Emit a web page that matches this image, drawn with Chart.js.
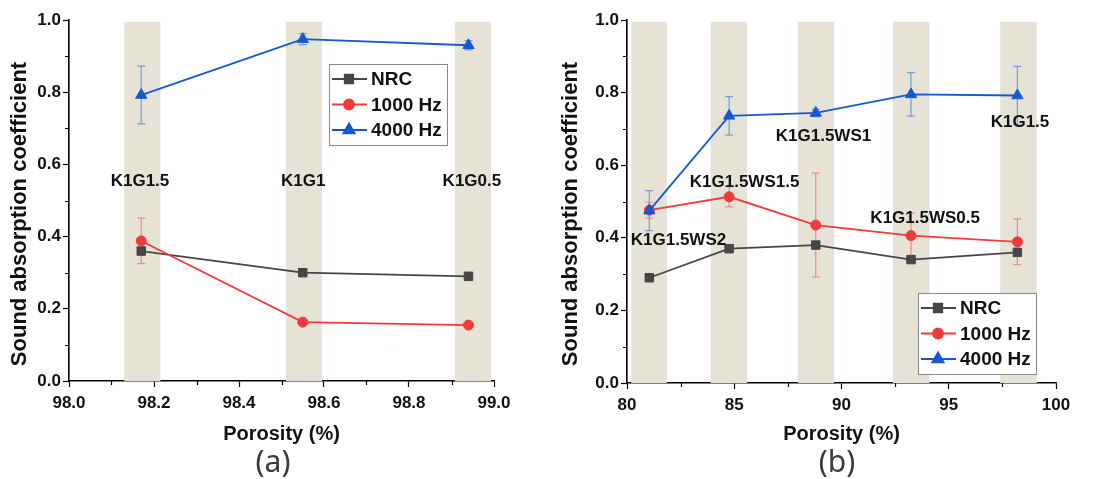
<!DOCTYPE html>
<html>
<head>
<meta charset="utf-8">
<script src="https://cdn.jsdelivr.net/npm/chart.js@4.4.0/dist/chart.umd.min.js"></script>
<style>
  body { margin: 0; background: #fff; }
  #wrap { position: relative; width: 1099px; height: 479px; overflow: hidden; }
  .panel { position: absolute; top: 0; width: 550px; height: 479px; }
  .cap { position: absolute; top: 440px; width: 80px; text-align: center;
         font: 30px "Noto Sans", sans-serif; color: #3a3a3a; }
</style>
</head>
<body>
<div id="wrap">
  <div class="panel" style="left:0"><canvas id="chartA"></canvas></div>
  <div class="panel" style="left:550px;width:549px"><canvas id="chartB"></canvas></div>
  <div class="cap" style="left:233px">(a)</div>
  <div class="cap" style="left:797px">(b)</div>
</div>
<script>
// ---- data ----
const seriesNames = ['NRC', '1000 Hz', '4000 Hz'];

// panel (a): K1G series
const porosityA = [98.17, 98.55, 98.94];
const nrcA = [0.36, 0.30, 0.29];
const hz1000A = [0.388, 0.163, 0.155];
const hz1000ErrA = [0.063, 0.004, 0.004];
const hz4000A = [0.792, 0.947, 0.930];
const hz4000ErrA = [0.08, 0.015, 0.013];
const bandsA = [[98.13, 98.215], [98.51, 98.595], [98.908, 98.993]];
const sampleLabelsA = ['K1G1.5', 'K1G1', 'K1G0.5'];
const sampleLabelXA = [98.167, 98.551, 98.948];
const sampleLabelYA = [0.552, 0.552, 0.552];
const xTicksA = [98.0, 98.2, 98.4, 98.6, 98.8, 99.0];

// panel (b): K1G1.5WS series
const porosityB = [81.04, 84.76, 88.8, 93.24, 98.2];
const nrcB = [0.29, 0.37, 0.38, 0.34, 0.36];
const hz1000B = [0.476, 0.513, 0.435, 0.406, 0.389];
const hz1000ErrB = [0.022, 0.028, 0.143, 0.062, 0.063];
const hz4000B = [0.475, 0.736, 0.744, 0.795, 0.792];
const hz4000ErrB = [0.055, 0.053, 0.01, 0.06, 0.08];
const bandsB = [[80.2, 81.86], [83.9, 85.6], [87.97, 89.65], [92.4, 94.1], [97.4, 99.1]];
const sampleLabelsB = ['K1G1.5WS2', 'K1G1.5WS1.5', 'K1G1.5WS1', 'K1G1.5WS0.5', 'K1G1.5'];
const sampleLabelXB = [82.4, 85.48, 89.16, 93.9, 98.32];
const sampleLabelYB = [0.394, 0.552, 0.679, 0.454, 0.717];
const xTicksB = [80, 85, 90, 95, 100];

const yTicks = [0.0, 0.2, 0.4, 0.6, 0.8, 1.0];
const yTitle = 'Sound absorption coefficient';

// ---- styles ----
const FONT = '"Liberation Sans", Arial, sans-serif';
const colors = {
  nrc: '#464646',
  red: '#ef3b3b',
  blue: '#1558d2',
  redErr: '#f08a8a',
  blueErr: '#6ea0df',
  band: '#e6e2d6'
};

function pts(xs, ys) {
  return xs.map((x, i) => ({ x: x, y: ys[i] }));
}

// shaded bands, error bars, sample labels, minor ticks, y title and inner legend
const extras = {
  id: 'extras',
  beforeDatasetsDraw(chart, args, opts) {
    const { ctx, chartArea } = chart;
    const x = chart.scales.x, y = chart.scales.y;
    ctx.save();
    ctx.fillStyle = colors.band;
    opts.bands.forEach(b => {
      const x0 = x.getPixelForValue(b[0]), x1 = x.getPixelForValue(b[1]);
      const top = y.getPixelForValue(0.995);
      ctx.fillRect(x0, top, x1 - x0, chartArea.bottom - top);
    });
    // error bars
    ctx.lineWidth = 1.2;
    opts.errors.forEach(e => {
      ctx.strokeStyle = e.color;
      e.xs.forEach((xv, i) => {
        const px = x.getPixelForValue(xv);
        const hi = y.getPixelForValue(e.ys[i] + e.err[i]);
        const lo = y.getPixelForValue(e.ys[i] - e.err[i]);
        ctx.beginPath();
        ctx.moveTo(px, hi); ctx.lineTo(px, lo);
        ctx.moveTo(px - 4, hi); ctx.lineTo(px + 4, hi);
        ctx.moveTo(px - 4, lo); ctx.lineTo(px + 4, lo);
        ctx.stroke();
      });
    });
    ctx.restore();
  },
  afterDraw(chart, args, opts) {
    const { ctx, chartArea } = chart;
    const x = chart.scales.x, y = chart.scales.y;
    ctx.save();
    // minor ticks
    ctx.strokeStyle = '#000';
    ctx.lineWidth = 1.2;
    const xt = x.ticks.map(t => t.value), yt = y.ticks.map(t => t.value);
    ctx.beginPath();
    for (let i = 0; i < xt.length - 1; i++) {
      const px = Math.round(x.getPixelForValue((xt[i] + xt[i + 1]) / 2)) + 0.5;
      ctx.moveTo(px, chartArea.bottom); ctx.lineTo(px, chartArea.bottom + 4);
    }
    for (let i = 0; i < yt.length - 1; i++) {
      const py = Math.round(y.getPixelForValue((yt[i] + yt[i + 1]) / 2)) + 0.5;
      ctx.moveTo(chartArea.left, py); ctx.lineTo(chartArea.left - 4, py);
    }
    ctx.stroke();

    // y axis title
    ctx.save();
    ctx.translate(opts.yTitleX, 214);
    ctx.rotate(-Math.PI / 2);
    ctx.fillStyle = '#111';
    ctx.font = 'bold 22px ' + FONT;
    ctx.textAlign = 'center';
    ctx.textBaseline = 'middle';
    ctx.fillText(yTitle, 0, 0);
    ctx.restore();

    // sample labels
    ctx.fillStyle = '#111';
    ctx.font = 'bold 17px ' + FONT;
    ctx.textAlign = 'center';
    ctx.textBaseline = 'middle';
    opts.labels.forEach((t, i) => {
      ctx.fillText(t, x.getPixelForValue(opts.labelX[i]), y.getPixelForValue(opts.labelY[i]));
    });

    // legend box
    const L = opts.legend;
    const bx = chartArea.left + L.left, by = chartArea.top + L.top;
    ctx.fillStyle = '#fff';
    ctx.fillRect(bx, by, 118, 81);
    ctx.strokeStyle = '#8a8a8a';
    ctx.lineWidth = 1;
    ctx.strokeRect(bx + 0.5, by + 0.5, 118, 81);
    ctx.textAlign = 'left';
    ctx.font = 'bold 19px ' + FONT;
    chart.data.datasets.forEach((ds, i) => {
      const ry = by + 15 + i * 25.5;
      ctx.strokeStyle = ds.borderColor;
      ctx.lineWidth = 1.8;
      ctx.beginPath();
      ctx.moveTo(bx + 3, ry); ctx.lineTo(bx + 38, ry);
      ctx.stroke();
      Chart.helpers.drawPoint(ctx, {
        pointStyle: ds.pointStyle, radius: ds.pointRadius, borderWidth: 1, rotation: 0
      }, bx + 20, ry);
      ctx.fillStyle = ds.backgroundColor;
      ctx.fill();
      ctx.fillStyle = '#111';
      ctx.fillText(seriesNames[i], bx + 42, ry + 1);
    });
    ctx.restore();
  }
};

function makeChart(id, p) {
  const tickFont = { family: FONT, size: 17, weight: 'bold' };
  return new Chart(document.getElementById(id), {
    type: 'line',
    data: {
      datasets: [
        { label: seriesNames[0], data: pts(p.xs, p.nrc), borderColor: colors.nrc,
          backgroundColor: colors.nrc, pointStyle: 'rect', pointRadius: 6, order: 2 },
        { label: seriesNames[1], data: pts(p.xs, p.h1000), borderColor: colors.red,
          backgroundColor: colors.red, pointStyle: 'circle', pointRadius: 5, order: 1 },
        { label: seriesNames[2], data: pts(p.xs, p.h4000), borderColor: colors.blue,
          backgroundColor: colors.blue, pointStyle: 'triangle', pointRadius: 6.5, order: 0 }
      ]
    },
    options: {
      responsive: true,
      maintainAspectRatio: false,
      animation: false,
      layout: { padding: p.padding },
      elements: {
        line: { borderWidth: 1.8, tension: 0 },
        point: { borderWidth: 1, hoverRadius: 5 }
      },
      plugins: {
        legend: { display: false },
        tooltip: { enabled: false },
        extras: {
          bands: p.bands,
          errors: [
            { xs: p.xs, ys: p.h1000, err: p.e1000, color: colors.redErr },
            { xs: p.xs, ys: p.h4000, err: p.e4000, color: colors.blueErr }
          ],
          labels: p.labels, labelX: p.labelX, labelY: p.labelY,
          legend: p.legend, yTitleX: p.yTitleX
        }
      },
      scales: {
        x: {
          type: 'linear',
          min: p.xTicks[0], max: p.xTicks[p.xTicks.length - 1],
          afterBuildTicks: s => { s.ticks = p.xTicks.map(v => ({ value: v })); },
          afterFit: s => { s.height = p.xHeight; },
          ticks: { color: '#111', font: tickFont, padding: 6, maxRotation: 0, autoSkip: false,
                   callback: v => p.xFmt(v) },
          grid: { drawOnChartArea: false, drawTicks: true, tickLength: 6, tickColor: '#000', tickWidth: 1.2 },
          border: { display: true, color: '#000', width: 1.6 },
          title: {
            display: true, text: 'Porosity (%)', color: '#111',
            font: { family: FONT, size: 20, weight: 'bold' }, padding: { top: 0, bottom: 33 }
          }
        },
        y: {
          min: 0, max: 1,
          afterBuildTicks: s => { s.ticks = yTicks.map(v => ({ value: v })); },
          afterFit: s => { s.width = p.yWidth; },
          ticks: { color: '#111', font: tickFont, padding: 2, callback: v => v.toFixed(1) },
          grid: { drawOnChartArea: false, drawTicks: true, tickLength: 6, tickColor: '#000', tickWidth: 1.2 },
          border: { display: true, color: '#000', width: 1.6 }
        }
      }
    },
    plugins: [extras]
  });
}

makeChart('chartA', {
  xs: porosityA, nrc: nrcA, h1000: hz1000A, e1000: hz1000ErrA, h4000: hz4000A, e4000: hz4000ErrA,
  bands: bandsA, labels: sampleLabelsA, labelX: sampleLabelXA, labelY: sampleLabelYA,
  xTicks: xTicksA, xFmt: v => v.toFixed(1),
  padding: { top: 20, right: 56, left: 0, bottom: 0 }, xHeight: 98, yWidth: 69,
  legend: { left: 260, top: 44 }, yTitleX: 20
});

makeChart('chartB', {
  xs: porosityB, nrc: nrcB, h1000: hz1000B, e1000: hz1000ErrB, h4000: hz4000B, e4000: hz4000ErrB,
  bands: bandsB, labels: sampleLabelsB, labelX: sampleLabelXB, labelY: sampleLabelYB,
  xTicks: xTicksB, xFmt: v => String(v),
  padding: { top: 20, right: 43, left: 0, bottom: 0 }, xHeight: 96, yWidth: 77,
  legend: { left: 291, top: 273 }, yTitleX: 21
});
</script>
</body>
</html>
